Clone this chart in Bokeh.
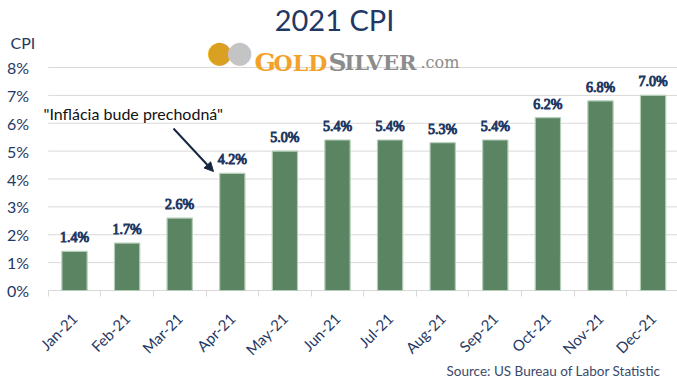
import math
from bokeh.plotting import figure
from bokeh.models import (ColumnDataSource, Range1d, FixedTicker, Label, Arrow,
                          NormalHead, LabelSet)
from bokeh.embed import file_html
from bokeh.resources import INLINE

months = ["Jan-21", "Feb-21", "Mar-21", "Apr-21", "May-21", "Jun-21",
          "Jul-21", "Aug-21", "Sep-21", "Oct-21", "Nov-21", "Dec-21"]
cpi = [1.4, 1.7, 2.6, 4.2, 5.0, 5.4, 5.4, 5.3, 5.4, 6.2, 6.8, 7.0]
y_ticks = [0, 1, 2, 3, 4, 5, 6, 7, 8]
y_tick_labels = ["0%", "1%", "2%", "3%", "4%", "5%", "6%", "7%", "8%"]

NAVY = "#1F3864"
FONT = "Lato"
W, H = 677, 380

idx = list(range(len(months)))
src = ColumnDataSource(dict(x=idx, cpi=cpi, lbl=[f"{v:.1f}%" for v in cpi]))

X0, X1 = -1.407, 11.464
Y0, Y1 = -3.229, 10.404
p = figure(width=W, height=H, x_range=Range1d(X0, X1), y_range=Range1d(Y0, Y1),
           output_backend="svg", toolbar_location=None, min_border=0)
p.outline_line_color = None
p.background_fill_color = "white"
p.border_fill_color = "white"
p.xgrid.visible = False
p.ygrid.visible = False

# gridlines starting at the first category boundary
grid_src = ColumnDataSource(dict(y=y_ticks, x0=[-0.5] * len(y_ticks), x1=[X1] * len(y_ticks)))
p.segment(x0="x0", y0="y", x1="x1", y1="y", source=grid_src, line_color="#D9D9D9", line_width=1)

p.vbar(x="x", top="cpi", width=0.48, source=src, fill_color="#5B8463",
       line_color="#B3CDB6", line_width=1.2)

# value labels (outline gives a bold look, as bold weight falls back to serif in svg)
p.add_layout(LabelSet(x="x", y="cpi", text="lbl", source=src, text_align="center",
                      text_baseline="bottom", y_offset=6, text_font=FONT,
                      text_font_size="14px", text_color=NAVY,
                      text_outline_color=NAVY))

# axes (placed inside the frame at fixed locations)
p.yaxis.fixed_location = -0.5
p.yaxis.ticker = FixedTicker(ticks=y_ticks)
p.yaxis.major_label_overrides = {t: l for t, l in zip(y_ticks, y_tick_labels)}
p.yaxis.axis_line_color = None
p.yaxis.major_tick_line_color = None
p.yaxis.minor_tick_line_color = None
p.yaxis.major_label_standoff = 13
p.yaxis.major_label_text_font = FONT
p.yaxis.major_label_text_font_size = "16px"
p.yaxis.major_label_text_color = NAVY

p.xaxis.fixed_location = 0
p.xaxis.ticker = FixedTicker(ticks=idx, minor_ticks=[i - 0.5 for i in range(13)])
p.xaxis.major_label_overrides = {i: m for i, m in zip(idx, months)}
p.xaxis.major_label_orientation = math.pi / 4
p.xaxis.axis_line_color = None
p.xaxis.major_tick_line_color = None
p.xaxis.minor_tick_line_color = "#D9D9D9"
p.xaxis.minor_tick_out = 6
p.xaxis.minor_tick_in = 0
p.xaxis.major_label_standoff = 19
p.xaxis.major_label_text_font = FONT
p.xaxis.major_label_text_font_size = "15px"
p.xaxis.major_label_text_color = NAVY


def lab(text, x, y, **kw):
    # x, y in screen pixels from the top-left of the picture
    opts = dict(x_units="screen", y_units="screen", text_font=FONT,
                text_align="left", text_baseline="alphabetic")
    opts.update(kw)
    p.add_layout(Label(x=x, y=H - y, text=text, **opts))


lab("2021 CPI", 334, 19, text_align="center", text_baseline="middle",
    text_font_size="29px", text_color=NAVY)
lab("CPI", 10, 42, text_baseline="middle", text_font_size="16px", text_color=NAVY)

# logo
lab("\u25CF", 219, 51, text_align="center", text_baseline="middle",
    text_font="DejaVu Sans", text_font_size="30px", text_color="#D9A021")
lab("\u25CF", 239, 51, text_align="center", text_baseline="middle",
    text_font="DejaVu Sans", text_font_size="30px", text_color="#C4C4C4")
SERIF = "DejaVu Serif"
GOLD_C = "#F2A22A"
SILV_C = "#8C8C8C"
lab("G", 254, 62, text_font=SERIF, text_font_style="bold", text_font_size="25px", text_color=GOLD_C)
lab("OLD", 273, 62, text_font=SERIF, text_font_style="bold", text_font_size="22px", text_color=GOLD_C)
lab("S", 328, 62, text_font=SERIF, text_font_style="bold", text_font_size="25px", text_color=SILV_C)
lab("ILVER", 344, 62, text_font=SERIF, text_font_style="bold", text_font_size="21px", text_color=SILV_C)
lab(".com", 420, 62, text_font=SERIF, text_font_size="16px", text_color=SILV_C)

# annotation
lab("\"Infl\u00e1cia bude prechodn\u00e1\"", 43, 113, text_baseline="middle",
    text_font_size="16px", text_color="#111111")
p.add_layout(Arrow(x_start=173, y_start=H - 128, x_end=213, y_end=H - 171,
                   start_units="screen", end_units="screen",
                   line_color="#17263F", line_width=2,
                   end=NormalHead(size=9, fill_color="#17263F", line_color="#17263F")))

# source
lab("Source: US Bureau of Labor Statistic", 660, 370, text_align="right",
    text_baseline="middle", text_font_size="13.5px", text_color="#3B4A6B")

open("out.html", "w").write(file_html(p, INLINE))
